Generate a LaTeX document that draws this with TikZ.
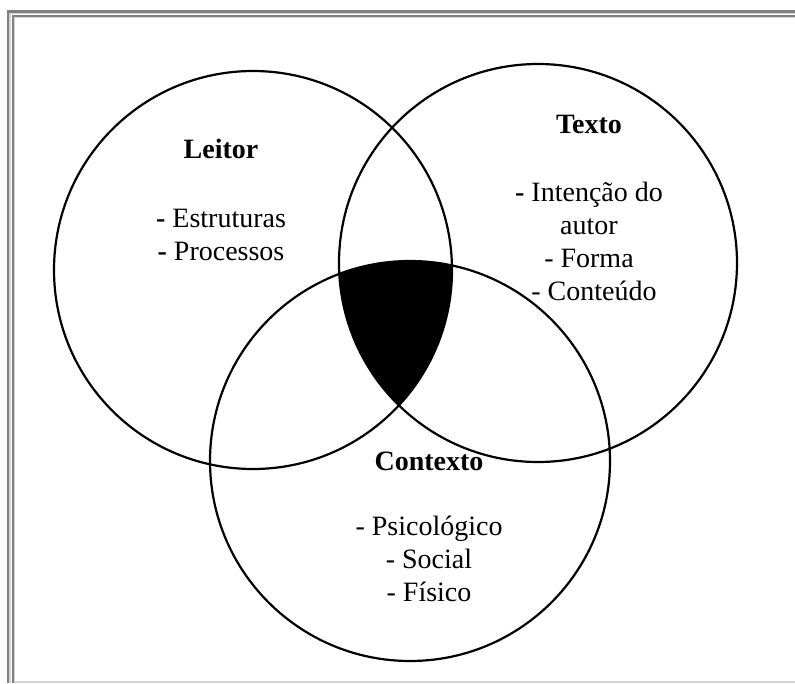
\documentclass[tikz,border=0pt]{standalone}
\usepackage{fontspec}
\setmainfont{Liberation Serif}
\definecolor{framegray}{HTML}{808080}
\definecolor{framelight}{HTML}{D4D4D4}
\usepackage{tikz}
\usetikzlibrary{positioning}

\begin{document}
\begin{tikzpicture}[x=1pt, y=-1pt,
    ring/.style={line width=2.2pt},
    title/.style={font=\fontsize{28}{32}\selectfont\bfseries, anchor=base, inner sep=0pt},
    items/.style={font=\fontsize{28}{33}\selectfont, align=center, anchor=north, inner sep=0pt}]
    \useasboundingbox (0,0) rectangle (795,683);
    % Frame
    \draw[framegray, line width=2.2pt] (7,11.5) -- (795,11.5);
    \draw[framegray, line width=2.2pt] (8,10.5) -- (8,683);
    \draw[framelight, line width=1.4pt] (9.5,13.6) -- (795,13.6);
    \draw[framelight, line width=1.4pt] (10,13) -- (10,683);
    \draw[framegray, line width=2pt] (12,15.7) -- (795,15.7);
    \draw[framegray, line width=2pt] (13,15) -- (13,683);
    \draw[framelight, line width=1.2pt] (14,17.4) -- (795,17.4);
    \draw[framelight, line width=1.2pt] (14.6,17) -- (14.6,683);
    \draw[framelight, line width=1.4pt] (14,682) -- (795,682);
    % Common zone of the three circles
    \begin{scope}
      \clip (253,270) circle[radius=199pt];
      \clip (538,263) circle[radius=199pt];
      \fill[black] (410,461) circle[radius=200pt];
    \end{scope}
    % Circles
    \draw[ring] (253,270) circle[radius=199pt];
    \draw[ring] (538,263) circle[radius=199pt];
    \draw[ring] (410,461) circle[radius=200pt];
    % Leitor
    \node[title] (leitor) at (221,158) {Leitor};
    \node[items] (leitoritems) at (221,209) {{\bfseries -} Estruturas\\{\bfseries -} Processos};
    % Texto
    \node[title] (texto) at (589,133) {Texto};
    \node[items] (textoitems) at (589,182) {{\bfseries -} Intenção do\\autor\\- Forma\\\hspace*{10pt}- Conteúdo};
    % Contexto
    \node[title] (contexto) at (429,470) {Contexto};
    \node[items] (contextoitems) at (429,516) {- Psicológico\\- Social\\- Físico};
\end{tikzpicture}
\end{document}
